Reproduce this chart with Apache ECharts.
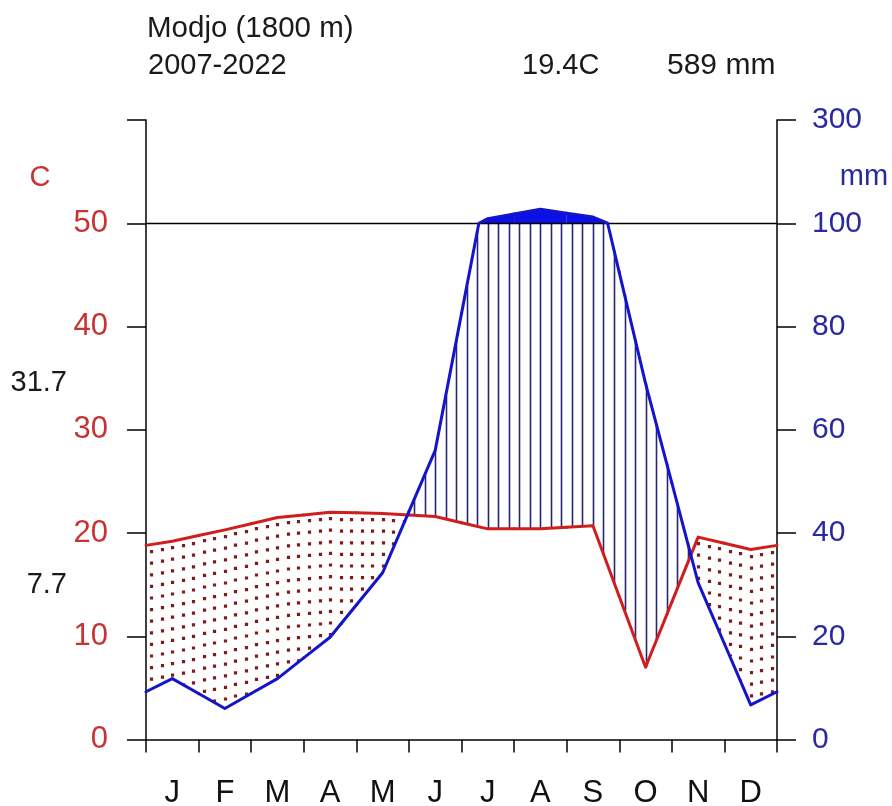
<!DOCTYPE html>
<html><head><meta charset="utf-8">
<script src="https://cdn.jsdelivr.net/npm/echarts@6/dist/echarts.min.js"></script>
<style>html,body{margin:0;padding:0;background:#fff}#c{width:892px;height:806px}</style>
</head><body><div id="c"></div>
<script>
// ---- data ----
const months = ['J','F','M','A','M','J','J','A','S','O','N','D'];
const temperature = [19.2, 20.3, 21.5, 22.0, 21.9, 21.6, 20.4, 20.4, 20.7, 7.0, 19.6, 18.4];   // °C
const precipitation = [11.8, 6.0, 11.8, 19.8, 32.3, 56.0, 109, 127, 112, 69, 30.4, 6.7];      // mm
const axisTicks = [0, 10, 20, 30, 40, 50, 60];                 // positions in °C units
const leftTickLabels = ['0', '10', '20', '30', '40', '50', ''];
const rightTickLabels = ['0', '20', '40', '60', '80', '100', '300'];
const station = 'Modjo (1800 m)';
const period = '2007-2022';
const meanTempLabel = '19.4C';
const totalPrecipLabel = '589 mm';
const warmMaxLabel = '31.7';
const coldMinLabel = '7.7';

// ---- helpers ----
const FONT = '"Liberation Sans", Arial, sans-serif';
const RED = '#d01e1e', BLUE = '#1414c8', CAP = '#0a10e6';
function mmToUnits(p) { return p <= 100 ? p / 2 : 50 + (p - 100) / 20; }
function wrap(i) { return (i + 12) % 12; }
function monthPoints(arr, i) {
  return [[i, (arr[wrap(i - 1)] + arr[i]) / 2], [i + 0.5, arr[i]], [i + 1, (arr[i] + arr[wrap(i + 1)]) / 2]];
}
function valueAt(pts, x) {
  const a = x <= pts[1][0] ? pts[0] : pts[1];
  const b = x <= pts[1][0] ? pts[1] : pts[2];
  return a[1] + (b[1] - a[1]) * (x - a[0]) / (b[0] - a[0]);
}
function precipPolyline(i) {
  const pts = monthPoints(precipitation, i);
  const out = [];
  for (let k = 0; k < 2; k++) {
    const a = pts[k], b = pts[k + 1];
    out.push(a);
    if ((a[1] - 100) * (b[1] - 100) < 0) {
      out.push([a[0] + (100 - a[1]) / (b[1] - a[1]) * (b[0] - a[0]), 100]);
    }
  }
  out.push(pts[2]);
  return out;
}
const seriesData = months.map((m, i) => [i, temperature[i], precipitation[i]]);

// hatch (wet) and dots (dry)
function renderFill(params, api) {
  const i = api.value(0);
  const tp = monthPoints(temperature, i), pp = monthPoints(precipitation, i);
  const children = [];
  for (let k = -2; k <= 2; k++) {
    const x = i + 0.5 + k * 0.2;
    const t = valueAt(tp, x);
    const pu = Math.min(mmToUnits(valueAt(pp, x)), 50);
    const a = api.coord([x, t]), b = api.coord([x, pu]);
    const px = Math.round(a[0]) + 0.5;
    if (pu > t) {
      children.push({ type: 'line', shape: { x1: px, y1: a[1], x2: px, y2: b[1] },
        style: { stroke: '#262673', lineWidth: 1.6 } });
    } else {
      children.push({ type: 'line', shape: { x1: px, y1: Math.round(a[1]) + 5, x2: px, y2: b[1] },
        style: { stroke: '#7c1d1d', lineWidth: 3.2, lineDash: [3.2, 8.4] } });
    }
  }
  return { type: 'group', children };
}
function renderCap(params, api) {
  const i = api.value(0);
  const poly = precipPolyline(i).filter(p => p[1] >= 100);
  if (poly.length < 2) return { type: 'group', children: [] };
  const pts = poly.map(p => api.coord([p[0], mmToUnits(p[1])]));
  pts.push(api.coord([poly[poly.length - 1][0], 50]));
  pts.push(api.coord([poly[0][0], 50]));
  return { type: 'polygon', shape: { points: pts }, style: { fill: CAP, stroke: null } };
}
function renderTemp(params, api) {
  const i = api.value(0);
  const pts = monthPoints(temperature, i).map(p => api.coord(p));
  return { type: 'polyline', shape: { points: pts },
    style: { stroke: RED, lineWidth: 3, fill: null, lineJoin: 'round', lineCap: 'round' } };
}
function renderPrecip(params, api) {
  const i = api.value(0);
  const pts = precipPolyline(i).map(p => api.coord([p[0], mmToUnits(p[1])]));
  return { type: 'polyline', shape: { points: pts },
    style: { stroke: BLUE, lineWidth: 3, fill: null, lineJoin: 'round', lineCap: 'round' } };
}

const axisLineStyle = { color: '#000', width: 1.5 };
const chart = echarts.init(document.getElementById('c'));
chart.setOption({
  animation: false,
  backgroundColor: '#fff',
  grid: { left: 146, top: 120, width: 631, height: 619.5, containLabel: false, outerBoundsMode: 'none' },
  xAxis: [
    { type: 'value', min: 0, max: 12, show: false },
    { type: 'category', data: months, position: 'bottom', boundaryGap: true,
      axisLine: { lineStyle: axisLineStyle },
      axisTick: { show: true, interval: 0, length: 13, lineStyle: axisLineStyle },
      axisLabel: { interval: 0, color: '#111', fontSize: 31, fontFamily: FONT, margin: 38 },
      splitLine: { show: false } }
  ],
  yAxis: [
    { type: 'value', min: 0, max: 60, interval: 10, position: 'left',
      axisLine: { show: true, lineStyle: axisLineStyle },
      axisTick: { show: true, length: 19, lineStyle: axisLineStyle },
      axisLabel: { color: '#c83232', fontSize: 31, fontFamily: FONT, margin: 38,
        formatter: v => leftTickLabels[axisTicks.indexOf(v)] },
      splitLine: { show: false } },
    { type: 'value', min: 0, max: 60, interval: 10, position: 'right',
      axisLine: { show: true, lineStyle: axisLineStyle },
      axisTick: { show: true, length: 19, lineStyle: axisLineStyle },
      axisLabel: { color: '#2a2aa0', fontSize: 30, fontFamily: FONT, margin: 35,
        formatter: v => rightTickLabels[axisTicks.indexOf(v)] },
      splitLine: { show: false } }
  ],
  series: [
    { type: 'custom', name: 'fill', xAxisIndex: 0, yAxisIndex: 0, data: seriesData, renderItem: renderFill, z: 2, silent: true },
    { type: 'line', name: 'ref', xAxisIndex: 0, yAxisIndex: 0, data: [], z: 3, silent: true,
      markLine: { silent: true, symbol: 'none', label: { show: false },
        lineStyle: { color: '#000', type: 'solid', width: 1.3 }, data: [{ yAxis: 50 }] } },
    { type: 'custom', name: 'cap', xAxisIndex: 0, yAxisIndex: 0, data: seriesData, renderItem: renderCap, z: 4, silent: true },
    { type: 'custom', name: 'temperature', xAxisIndex: 0, yAxisIndex: 0, data: seriesData, renderItem: renderTemp, z: 5, silent: true },
    { type: 'custom', name: 'precipitation', xAxisIndex: 0, yAxisIndex: 0, data: seriesData, renderItem: renderPrecip, z: 6, silent: true }
  ],
  graphic: [
    { type: 'text', x: 147, y: 29, style: { text: station, font: '29.5px ' + FONT, fill: '#1a1a1a', align: 'left', verticalAlign: 'middle' } },
    { type: 'text', x: 148, y: 66, style: { text: period, font: '29px ' + FONT, fill: '#1a1a1a', align: 'left', verticalAlign: 'middle' } },
    { type: 'text', x: 522, y: 66, style: { text: meanTempLabel, font: '29px ' + FONT, fill: '#1a1a1a', align: 'left', verticalAlign: 'middle' } },
    { type: 'text', x: 667, y: 66, style: { text: totalPrecipLabel, font: '30px ' + FONT, fill: '#1a1a1a', align: 'left', verticalAlign: 'middle' } },
    { type: 'text', x: 40, y: 178, style: { text: 'C', font: '29px ' + FONT, fill: '#c83232', align: 'center', verticalAlign: 'middle' } },
    { type: 'text', x: 864, y: 177, style: { text: 'mm', font: '29px ' + FONT, fill: '#2a2aa0', align: 'center', verticalAlign: 'middle' } },
    { type: 'text', x: 67, y: 383, style: { text: warmMaxLabel, font: '29px ' + FONT, fill: '#1a1a1a', align: 'right', verticalAlign: 'middle' } },
    { type: 'text', x: 67, y: 585, style: { text: coldMinLabel, font: '29px ' + FONT, fill: '#1a1a1a', align: 'right', verticalAlign: 'middle' } }
  ]
});
</script></body></html>
